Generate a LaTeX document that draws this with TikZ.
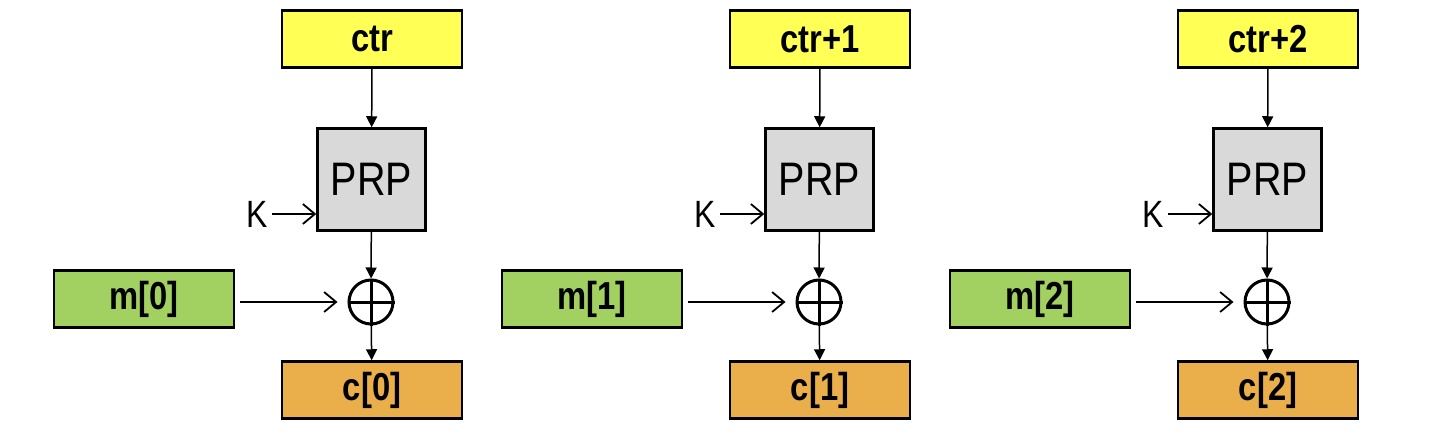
\documentclass[tikz,border=0pt]{standalone}
\usepackage{fontspec}
\setmainfont{Liberation Sans}[FakeStretch=0.84]
\usetikzlibrary{arrows.meta, positioning}
\definecolor{cyellow}{HTML}{FFFF55}
\definecolor{cgreen}{HTML}{A2D161}
\definecolor{corange}{HTML}{EAAF4A}
\definecolor{cgrey}{HTML}{D9D9D9}
\tikzset{
  every picture/.style={x=1pt, y=-1pt, line width=1.5pt},
  box/.style={draw=black, line width=2.5pt, fill=#1, minimum width=180pt, minimum height=57pt, inner sep=0pt, font=\fontsize{39}{39}\selectfont\bfseries},
  prp/.style={draw=black, line width=2.5pt, fill=cgrey, minimum width=108pt, minimum height=102pt, inner sep=0pt, font=\fontsize{47}{47}\selectfont},
  xor/.style={circle, draw=black, line width=3pt, minimum size=44pt, inner sep=0pt},
  arrow/.style={-{Triangle[length=11pt, width=11pt]}, line width=1.5pt},
  feed/.style={-{Straight Barb[length=12pt, width=20pt]}, line width=1.8pt},
  keytext/.style={font=\fontsize{38}{38}\selectfont, inner sep=2pt},
}

\begin{document}
\begin{tikzpicture}
  \useasboundingbox (0,0) rectangle (1442,446);
  % one block of counter mode per message part
  \foreach \i/\ctrtext in {0/ctr, 1/ctr+1, 2/ctr+2} {
  \begin{scope}[xshift=\i*448pt]
  \node[box=cyellow] (ctr\i) at (372,39) {\ctrtext};
  \node[prp] (prp\i) at (371.5,179.5) {PRP};
  \node[keytext] (k\i) at (257,214) {K};
  \node[xor] (x\i) at (371,302) {};
  \node[box=cgreen] (m\i) at (144,299) {m[\i]};
  \node[box=corange] (c\i) at (372,390) {c[\i]};
  \draw[line width=3pt] (x\i.north) -- (x\i.south) (x\i.west) -- (x\i.east);
  \draw[arrow] (ctr\i) -- (prp\i);
  \draw[arrow] (prp\i) -- (x\i);
  \draw[arrow] (x\i) -- (c\i);
  \draw[feed, shorten <=2pt] (k\i.east) -- (k\i.east -| prp\i.west);
  \draw[feed, shorten <=5pt, shorten >=10pt] (m\i.east |- x\i.west) -- (x\i.west);
  \end{scope}
  }
\end{tikzpicture}
\end{document}
